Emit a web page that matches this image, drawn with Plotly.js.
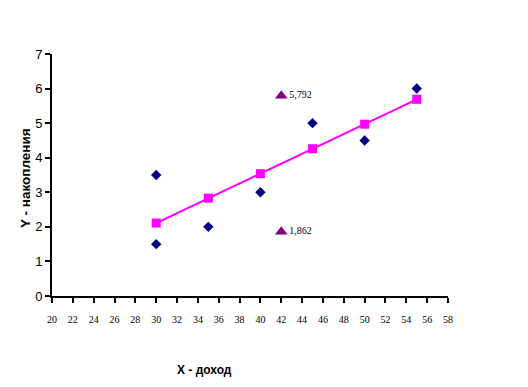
<!DOCTYPE html>
<html>
<head>
<meta charset="utf-8">
<script src="https://cdn.plot.ly/plotly-3.0.1.min.js"></script>
<style>html,body{margin:0;padding:0;background:#fff;}#chart{width:528px;height:387px;}</style>
</head>
<body>
<div id="chart"></div>
<script>
const obsX = [30, 30, 35, 40, 45, 50, 55];
const obsY = [3.5, 1.5, 2, 3, 5, 4.5, 6];
const fitX = [30, 35, 40, 45, 50, 55];
const fitY = [2.11, 2.83, 3.54, 4.26, 4.97, 5.69];
const intX = [42, 42];
const intY = [5.792, 1.862];
const intLabels = ["5,792", "1,862"];
const xTicks = [20,22,24,26,28,30,32,34,36,38,40,42,44,46,48,50,52,54,56,58];

const traces = [
  {x: obsX, y: obsY, mode: 'markers', type: 'scatter',
   marker: {symbol: 'diamond', size: 8, color: '#000080'}},
  {x: fitX, y: fitY, mode: 'lines+markers', type: 'scatter',
   line: {color: '#FF00FF', width: 2},
   marker: {symbol: 'square', size: 9, color: '#FF00FF'}},
  {x: intX, y: intY, mode: 'markers+text', type: 'scatter',
   text: intLabels, textposition: 'middle right',
   textfont: {family: 'Liberation Serif', size: 10, color: '#000'},
   marker: {symbol: 'triangle-up', size: 11, color: '#800080'}}
];

const layout = {
  width: 528, height: 387,
  margin: {l: 52, r: 80, t: 54, b: 91},
  paper_bgcolor: '#fff', plot_bgcolor: '#fff',
  showlegend: false,
  xaxis: {range: [20, 58], tickvals: xTicks, ticktext: xTicks.map(String),
    showgrid: false, zeroline: false, showline: true, linecolor: '#000', linewidth: 2,
    ticks: 'outside', ticklen: 5, tickwidth: 2, tickcolor: '#000',
    tickfont: {family: 'Liberation Serif', size: 10, color: '#000'}, ticklabelstandoff: 8},
  yaxis: {range: [0, 7], dtick: 1, tick0: 0,
    showgrid: false, zeroline: false, showline: true, linecolor: '#000', linewidth: 2,
    ticks: 'outside', ticklen: 5, tickwidth: 2, tickcolor: '#000',
    tickfont: {family: 'Liberation Sans', size: 13, color: '#000'}},
  annotations: [
    {text: '<b>X - доход</b>', xref: 'paper', yref: 'paper', x: (204-52)/396, y: -(370-296)/242,
     xanchor: 'center', yanchor: 'middle', showarrow: false,
     font: {family: 'Liberation Sans', size: 12, color: '#000'}},
    {text: '<b>Y - накопления</b>', xref: 'paper', yref: 'paper', x: (25-52)/396, y: (296-178)/242,
     xanchor: 'center', yanchor: 'middle', showarrow: false, textangle: -90,
     font: {family: 'Liberation Sans', size: 13.5, color: '#000'}}
  ]
};

Plotly.newPlot('chart', traces, layout, {staticPlot: true, displayModeBar: false});
</script>
</body>
</html>
